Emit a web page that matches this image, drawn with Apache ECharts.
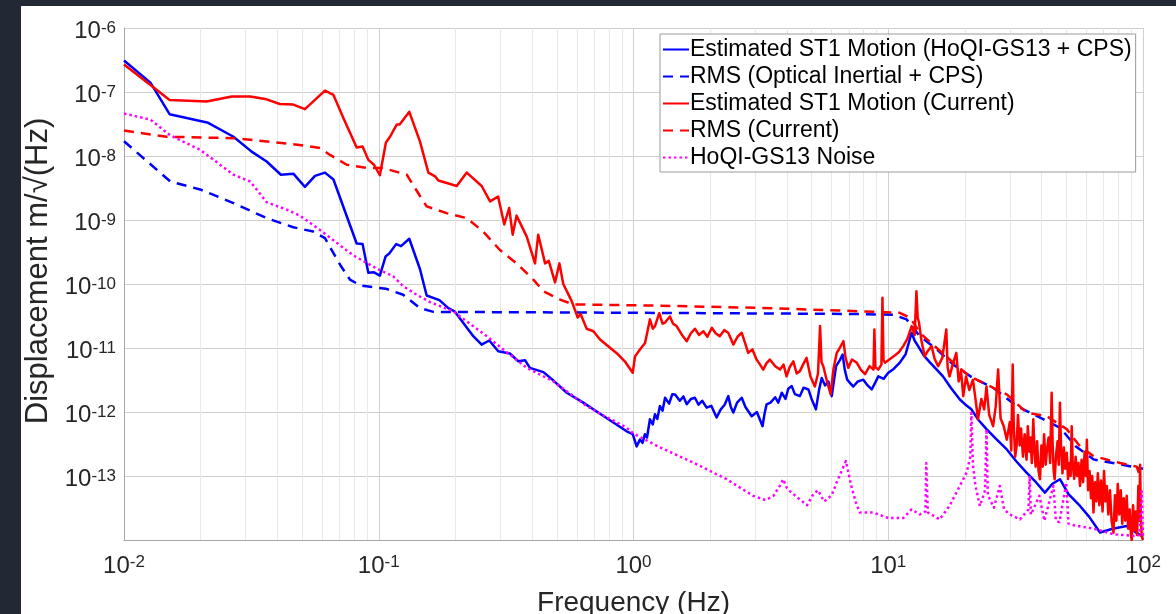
<!DOCTYPE html>
<html>
<head>
<meta charset="utf-8">
<title>ST1 motion estimate</title>
<script src="https://cdn.jsdelivr.net/npm/echarts@6/dist/echarts.min.js"></script>
<style>
  html, body { margin: 0; padding: 0; background: #222834; }
  #chart {
    position: absolute;
    left: 21px;
    top: 6px;
    width: 1155px;
    height: 608px;
    background: #fff;
  }
</style>
</head>
<body>
<div id="chart"></div>
<script>
// decade ticks of both axes (exponents of 10)
const xDecades = [-2, -1, 0, 1, 2];
const yDecades = [-14, -13, -12, -11, -10, -9, -8, -7, -6];

const seriesNames = [
  'Estimated ST1 Motion (HoQI-GS13 + CPS)',
  'RMS (Optical Inertial + CPS)',
  'Estimated ST1 Motion (Current)',
  'RMS (Current)',
  'HoQI-GS13 Noise'
];

// [frequency Hz, displacement m/rtHz]
const st1Hoqi = [
  [0.01, 3.1e-7], [0.0127, 1.4e-7], [0.0151, 4.5e-8], [0.0214, 3.3e-8], [0.0269, 2.0e-8],
  [0.0317, 1.17e-8], [0.0363, 8.2e-9], [0.0413, 5.1e-9], [0.0462, 5.3e-9], [0.0513, 3.3e-9],
  [0.0562, 4.9e-9], [0.0615, 5.5e-9], [0.0664, 4.3e-9], [0.0819, 4.3e-10], [0.0864, 4.2e-10],
  [0.091, 1.5e-10], [0.0958, 1.52e-10], [0.101, 1.35e-10], [0.1064, 2.7e-10], [0.110, 3.0e-10],
  [0.117, 4.2e-10], [0.1223, 3.9e-10], [0.1318, 5.1e-10], [0.1452, 1.7e-10], [0.1542, 6.6e-11],
  [0.173, 5.6e-11], [0.1876, 4.2e-11], [0.199, 3.7e-11], [0.235, 1.53e-11], [0.2535, 1.13e-11],
  [0.2716, 1.31e-11], [0.2944, 8.9e-12], [0.327, 8.2e-12], [0.353, 6.2e-12], [0.375, 6.45e-12],
  [0.392, 4.9e-12], [0.443, 4.2e-12], [0.485, 3.1e-12], [0.547, 2.0e-12], [0.635, 1.4e-12],
  [0.739, 9.4e-13], [0.94, 5.0e-13], [0.993, 4.5e-13], [1.029, 2.9e-13], [1.06, 3.7e-13],
  [1.085, 3.3e-13], [1.109, 4.5e-13], [1.13, 4.0e-13], [1.16, 7.7e-13], [1.19, 6.4e-13],
  [1.214, 9.2e-13], [1.24, 7.8e-13], [1.27, 1.24e-12], [1.30, 1.05e-12], [1.33, 1.67e-12],
  [1.38, 1.35e-12], [1.42, 1.9e-12], [1.456, 1.88e-12], [1.52, 1.5e-12], [1.57, 1.75e-12],
  [1.618, 1.32e-12], [1.68, 1.6e-12], [1.742, 1.67e-12], [1.80, 1.3e-12], [1.86, 1.5e-12],
  [1.937, 1.17e-12], [2.02, 1.25e-12], [2.12, 8.2e-13], [2.20, 1.1e-12], [2.28, 1.3e-12],
  [2.355, 1.77e-12], [2.41, 1.2e-12], [2.465, 9.8e-13], [2.55, 1.4e-12], [2.66, 1.67e-12],
  [2.75, 1.2e-12], [2.91, 8.6e-13], [3.05, 1.0e-12], [3.21, 6.0e-13], [3.27, 9.5e-13],
  [3.33, 1.32e-12], [3.45, 1.4e-12], [3.6, 1.7e-12], [3.7, 1.4e-12], [3.82, 2.0e-12],
  [3.95, 1.6e-12], [4.05, 2.3e-12], [4.18, 2.54e-12], [4.3, 1.9e-12], [4.5, 1.77e-12],
  [4.65, 2.4e-12], [4.86, 2.25e-12], [5.0, 1.6e-12], [5.2, 1.1e-12], [5.35, 2.2e-12],
  [5.48, 3.4e-12], [5.65, 2.6e-12], [5.82, 3.0e-12], [6.0, 1.77e-12], [6.24, 5.2e-12],
  [6.45, 6.4e-12], [6.62, 7.9e-12], [6.75, 4.6e-12], [6.9, 3.2e-12], [7.1, 2.8e-12],
  [7.29, 2.5e-12], [7.6, 3.0e-12], [7.98, 3.2e-12], [8.3, 2.6e-12], [8.61, 2.25e-12],
  [8.9, 2.9e-12], [9.14, 3.6e-12], [9.6, 3.3e-12], [10.0, 4.1e-12], [10.5, 4.7e-12],
  [11.1, 5.9e-12], [11.7, 8.0e-12], [12.35, 1.73e-11], [12.7, 1.3e-11], [13.1, 1.07e-11],
  [13.8, 7.6e-12], [14.6, 5.9e-12], [15.5, 4.6e-12], [16.4, 3.6e-12], [17.6, 2.4e-12],
  [19.1, 1.57e-12], [20.1, 1.3e-12], [21.2, 1.1e-12], [22.6, 7.5e-13], [24.3, 5.4e-13],
  [26.5, 3.8e-13], [29.2, 2.6e-13], [31.8, 1.7e-13], [34.9, 1.13e-13], [38.0, 8.0e-14],
  [41.2, 5.5e-14], [44.0, 7.5e-14], [47.2, 8.9e-14], [51.0, 5.2e-14], [56.6, 3.4e-14],
  [61.5, 2.3e-14], [67.8, 1.31e-14], [76.0, 1.5e-14], [86.3, 1.66e-14], [94.0, 1.3e-14],
  [98.8, 1.16e-14], [100, 1.2e-14]
];

const rmsOptical = [
  [0.01, 1.7e-8], [0.0152, 4.0e-9], [0.0199, 3.0e-9], [0.0269, 1.84e-9], [0.0363, 1.07e-9],
  [0.0462, 7.7e-10], [0.0553, 6.6e-10], [0.0615, 5.2e-10], [0.0705, 2.0e-10], [0.0771, 1.17e-10],
  [0.0846, 9.5e-11], [0.107, 8.4e-11], [0.1247, 6.8e-11], [0.145, 4.2e-11], [0.164, 3.67e-11],
  [1.0, 3.55e-11], [7.74, 3.4e-11], [10.5, 3.3e-11], [11.8, 2.8e-11], [13.3, 1.53e-11],
  [15.5, 9.5e-12], [18.0, 5.5e-12], [21.5, 3.4e-12], [25.8, 2.4e-12], [31.9, 1.24e-12],
  [37.1, 9.2e-13], [47.2, 5.7e-13], [54.5, 2.9e-13], [63.9, 1.82e-13], [81.3, 1.52e-13],
  [94.5, 1.35e-13], [100, 1.3e-13]
];

const st1Current = [
  [0.01, 2.7e-7], [0.0127, 1.29e-7], [0.0151, 7.5e-8], [0.0211, 7.1e-8], [0.0265, 8.5e-8],
  [0.0313, 8.5e-8], [0.0358, 7.8e-8], [0.0409, 6.5e-8], [0.0462, 6.35e-8], [0.0513, 5.4e-8],
  [0.0615, 1.05e-7], [0.0664, 9.0e-8], [0.0727, 3.9e-8], [0.0819, 1.36e-8], [0.0864, 1.41e-8],
  [0.091, 8.7e-9], [0.0958, 7.3e-9], [0.101, 5.0e-9], [0.1067, 1.63e-8], [0.1107, 2.0e-8],
  [0.1175, 3.07e-8], [0.121, 3.14e-8], [0.1318, 4.9e-8], [0.1452, 1.68e-8], [0.1566, 5.5e-9],
  [0.1664, 4.8e-9], [0.1714, 4.15e-9], [0.2024, 3.4e-9], [0.2215, 5.5e-9], [0.2535, 3.4e-9],
  [0.2735, 1.95e-9], [0.294, 2.33e-9], [0.311, 8.5e-10], [0.325, 1.54e-9], [0.3355, 5.9e-10],
  [0.3475, 1.17e-9], [0.381, 5.5e-10], [0.4105, 2.1e-10], [0.4227, 5.9e-10], [0.4497, 2.1e-10],
  [0.465, 2.3e-10], [0.492, 1.06e-10], [0.512, 2.1e-10], [0.53, 1.0e-10], [0.572, 5.4e-11],
  [0.604, 3.0e-11], [0.62, 3.4e-11], [0.655, 2.0e-11], [0.696, 1.83e-11], [0.739, 1.36e-11],
  [0.809, 1.01e-11], [0.871, 7.9e-12], [0.93, 6.0e-12], [0.993, 4.1e-12], [1.014, 7.4e-12],
  [1.06, 9.5e-12], [1.11, 1.2e-11], [1.16, 2.8e-11], [1.19, 2.0e-11], [1.214, 2.2e-11],
  [1.262, 3.5e-11], [1.30, 2.4e-11], [1.33, 2.5e-11], [1.39, 3.1e-11], [1.43, 2.4e-11],
  [1.476, 2.2e-11], [1.55, 1.6e-11], [1.618, 1.28e-11], [1.68, 1.7e-11], [1.742, 2.0e-11],
  [1.81, 1.6e-11], [1.88, 1.83e-11], [1.95, 1.5e-11], [2.03, 2.07e-11], [2.1, 1.7e-11],
  [2.18, 1.53e-11], [2.27, 1.9e-11], [2.355, 1.73e-11], [2.465, 1.13e-11], [2.56, 1.5e-11],
  [2.66, 1.73e-11], [2.74, 1.2e-11], [2.82, 8.4e-12], [2.93, 9.5e-12], [3.04, 6.6e-12],
  [3.13, 5.6e-12], [3.23, 4.6e-12], [3.33, 5.8e-12], [3.43, 6.6e-12], [3.6, 5.2e-12],
  [3.76, 4.6e-12], [3.88, 5.5e-12], [3.99, 3.6e-12], [4.1, 5.0e-12], [4.24, 6.2e-12],
  [4.37, 4.0e-12], [4.5, 4.35e-12], [4.64, 5.6e-12], [4.78, 7.0e-12], [4.95, 3.6e-12],
  [5.15, 2.5e-12], [5.3, 4.0e-12], [5.4, 2.2e-11], [5.47, 6.0e-12], [5.56, 5.2e-12],
  [5.75, 3.0e-12], [5.94, 1.9e-12], [6.1, 4.8e-12], [6.28, 8.4e-12], [6.45, 1.0e-11],
  [6.67, 1.28e-11], [6.8, 7.0e-12], [6.97, 4.9e-12], [7.2, 6.6e-12], [7.52, 5.9e-12],
  [7.8, 4.6e-12], [8.11, 3.9e-12], [8.45, 5.2e-12], [8.75, 4.6e-12], [8.82, 1.95e-11],
  [8.9, 5.0e-12], [9.14, 4.6e-12], [9.4, 5.5e-12], [9.49, 6.1e-11], [9.58, 6.4e-12],
  [9.71, 5.9e-12], [10.1, 6.6e-12], [10.5, 7.4e-12], [11.0, 8.6e-12], [11.45, 1.07e-11],
  [11.9, 1.4e-11], [12.36, 2.2e-11], [12.7, 1.6e-11], [12.9, 7.7e-11], [13.05, 3.0e-11],
  [13.2, 2.5e-11], [13.5, 1.3e-11], [13.9, 7.4e-12], [14.3, 9.0e-12], [14.8, 1.07e-11],
  [15.2, 6.8e-12], [15.7, 5.2e-12], [16.3, 7.0e-12], [16.9, 1.95e-11], [17.1, 5.0e-12],
  [17.4, 3.6e-12], [17.9, 5.5e-12], [18.5, 8.4e-12], [18.9, 3.0e-12], [19.3, 4.4e-12],
  [19.7, 1.77e-12], [20.2, 3.6e-12], [20.8, 2.2e-12], [21.5, 3.2e-12], [22.0, 1.6e-12],
  [22.5, 7.7e-13], [23.2, 1.6e-12], [23.8, 1.1e-12], [24.3, 2.5e-12], [24.9, 9.0e-13],
  [25.8, 6.0e-13], [26.4, 1.2e-12], [27.0, 4.6e-12], [27.6, 8.0e-13], [28.4, 6.0e-13],
  [29.2, 3.7e-13], [30.0, 7.0e-13], [30.4, 2.5e-13], [30.8, 5.5e-12], [31.1, 6.0e-13],
  [31.5, 2.0e-13], [31.9, 2.9e-13], [32.3, 9.0e-13], [32.8, 3.0e-13], [33.2, 5.5e-13],
  [33.8, 2.0e-13], [34.3, 4.5e-13], [34.9, 1.8e-13], [35.3, 6.0e-13], [35.8, 2.4e-13],
  [36.2, 4.0e-13], [36.6, 1.6e-13], [37.1, 7.7e-13], [37.5, 2.5e-13], [37.9, 1.4e-13],
  [38.4, 3.5e-13], [38.9, 1.2e-13], [39.4, 8.9e-14], [39.9, 3.0e-13], [40.4, 1.4e-13],
  [40.9, 4.5e-13], [41.5, 1.5e-13], [42.0, 2.6e-13], [42.6, 4.0e-13], [43.2, 1.6e-13],
  [43.8, 2.0e-12], [44.2, 3.0e-13], [44.6, 1.2e-13], [45.0, 8.9e-14], [45.6, 2.2e-13],
  [46.2, 3.5e-13], [46.7, 1.5e-13], [47.2, 1.4e-12], [47.7, 2.6e-13], [48.3, 1.1e-13],
  [48.9, 2.8e-13], [49.5, 1.3e-13], [50.2, 2.3e-13], [50.8, 9.0e-14], [51.4, 1.6e-13],
  [52.0, 1.0e-13], [52.5, 6.0e-13], [53.0, 1.5e-13], [53.7, 9.0e-14], [54.4, 2.0e-13],
  [55.1, 1.0e-13], [55.8, 1.6e-13], [56.6, 7.0e-14], [57.4, 1.8e-13], [58.2, 8.0e-14],
  [59.0, 2.4e-13], [59.7, 1.0e-13], [60.2, 3.7e-13], [60.9, 6.0e-14], [61.7, 1.2e-13],
  [62.5, 4.5e-14], [63.2, 1.0e-13], [63.9, 2.7e-14], [64.8, 8.0e-14], [65.6, 4.0e-14],
  [66.5, 1.1e-13], [67.4, 3.5e-14], [68.4, 8.5e-14], [69.4, 2.8e-14], [70.3, 1.2e-13],
  [71.2, 4.0e-14], [72.1, 7.0e-14], [73.1, 2.5e-14], [74.2, 6.0e-14], [75.3, 2.0e-14],
  [76.6, 1.3e-14], [77.6, 5.0e-14], [78.6, 2.0e-14], [79.6, 7.5e-14], [80.7, 2.5e-14],
  [81.8, 6.0e-14], [82.9, 1.8e-14], [84.0, 4.5e-14], [85.2, 2.0e-14], [86.3, 4.9e-14],
  [87.5, 1.5e-14], [88.7, 3.0e-14], [89.7, 1.2e-14], [90.3, 1.0e-14], [91.4, 3.5e-14],
  [92.5, 1.4e-14], [93.6, 2.8e-14], [94.8, 1.2e-14], [95.9, 7.0e-14], [96.8, 2.0e-14],
  [97.4, 1.5e-13], [98.1, 2.5e-14], [98.8, 1.16e-14], [100, 1.0e-14]
];

const rmsCurrent = [
  [0.01, 2.5e-8], [0.0147, 2.0e-8], [0.0269, 1.9e-8], [0.0449, 1.55e-8], [0.0537, 1.41e-8],
  [0.0588, 1.33e-8], [0.0644, 1.04e-8], [0.0749, 7.3e-9], [0.0897, 6.5e-9], [0.1042, 6.47e-9],
  [0.1288, 5.1e-9], [0.1388, 3.15e-9], [0.1542, 1.63e-9], [0.1847, 1.28e-9], [0.2215, 1.07e-9],
  [0.257, 6.6e-10], [0.299, 3.4e-10], [0.3475, 2.1e-10], [0.4045, 1.17e-10], [0.443, 7.7e-11],
  [0.515, 5.7e-11], [0.581, 4.8e-11], [1.2, 4.6e-11], [3.13, 4.24e-11], [7.74, 3.75e-11],
  [11.1, 3.54e-11], [12.2, 2.96e-11], [13.3, 1.73e-11], [15.5, 1.0e-11], [18.0, 5.9e-12],
  [20.9, 3.6e-12], [24.3, 2.7e-12], [29.2, 1.88e-12], [34.9, 9.8e-13], [41.9, 8.6e-13],
  [50.2, 5.4e-13], [56.6, 2.9e-13], [63.9, 2.05e-13], [81.3, 1.6e-13], [94.5, 1.4e-13],
  [97.2, 1.0e-13], [100, 1.0e-13]
];

const hoqiNoise = [
  [0.01, 4.6e-8], [0.0127, 3.7e-8], [0.0152, 2.1e-8], [0.0199, 1.25e-8], [0.0269, 5.1e-9],
  [0.0313, 4.0e-9], [0.0363, 1.9e-9], [0.0435, 1.45e-9], [0.049, 1.17e-9], [0.0588, 7.0e-10],
  [0.0684, 4.4e-10], [0.0795, 2.8e-10], [0.0897, 2.13e-10], [0.1, 1.68e-10], [0.114, 1.32e-10],
  [0.1247, 9.2e-11], [0.141, 6.8e-11], [0.159, 5.2e-11], [0.196, 3.75e-11], [0.2655, 1.53e-11],
  [0.308, 9.5e-12], [0.381, 4.9e-12], [0.485, 3.0e-12], [0.655, 1.24e-12], [0.739, 9.4e-13],
  [0.94, 5.7e-13], [1.0, 4.6e-13], [1.27, 2.8e-13], [1.718, 1.62e-13], [2.32, 8.9e-14],
  [2.95, 4.9e-14], [3.3, 4.2e-14], [3.54, 4.9e-14], [3.75, 7.0e-14], [3.87, 8.9e-14],
  [4.0, 6.5e-14], [4.11, 5.8e-14], [4.5, 4.3e-14], [4.8, 3.5e-14], [5.08, 5.2e-14],
  [5.3, 6.0e-14], [5.6, 4.0e-14], [6.0, 5.0e-14], [6.27, 7.9e-14], [6.5, 1.1e-13],
  [6.82, 1.71e-13], [7.16, 7.0e-14], [7.5, 3.6e-14], [7.74, 2.7e-14], [8.7, 2.7e-14],
  [10, 2.2e-14], [11.45, 2.2e-14], [12.35, 3.0e-14], [13.3, 2.5e-14], [14.0, 2.8e-14],
  [14.1, 1.6e-13], [14.3, 2.7e-14], [15.9, 2.1e-14], [17.4, 3.4e-14], [19.1, 7.0e-14],
  [20.3, 1.13e-13], [21.0, 2.0e-13], [21.2, 9.7e-13], [21.5, 1.5e-13], [22.0, 7.0e-14],
  [22.9, 3.4e-14], [24.0, 6.0e-14], [24.3, 5.4e-13], [24.6, 5.0e-14], [26.0, 3.2e-14],
  [27.4, 7.0e-14], [28.5, 3.0e-14], [30.0, 2.5e-14], [32.9, 2.1e-14], [35.5, 3.0e-14],
  [35.9, 1.0e-13], [36.3, 2.5e-14], [39.2, 4.9e-14], [41, 2.0e-14], [44.5, 7.0e-14],
  [45.5, 2.0e-14], [47, 1.9e-14], [50, 7.9e-14], [51, 1.8e-14], [53.6, 1.7e-14],
  [64, 1.5e-14], [76.6, 1.23e-14], [91.3, 1.16e-14], [97, 1.2e-14], [98.8, 5.8e-14],
  [100, 1.1e-14]
];

const FONT = 'Liberation Sans, Arial, sans-serif';
const TEXT = '#262626';

function powLabel(val) {
  const e = Math.round(Math.log10(val));
  if (e === -14) return '';
  return '{b|10}{s|' + e + '}';
}
const powRich = {
  b: { fontFamily: FONT, fontSize: 24, color: TEXT, lineHeight: 24, verticalAlign: 'bottom', padding: [7, 0, 0, 0] },
  s: { fontFamily: FONT, fontSize: 17, color: TEXT, lineHeight: 17, verticalAlign: 'top' }
};

// minor grid lines at 2..9 of each decade
const minorY = [];
yDecades.slice(0, -1).forEach(e => {
  for (let d = 2; d <= 9; d++) minorY.push({ yAxis: d * Math.pow(10, e) });
});
const minorX = [];
xDecades.slice(0, -1).forEach(e => {
  for (let d = 2; d <= 9; d++) minorX.push({ xAxis: d * Math.pow(10, e) });
});

function lineSeries(name, data, color, type, z) {
  return {
    name: name,
    type: 'line',
    data: data,
    symbol: 'none',
    z: z,
    animation: false,
    lineStyle: { color: color, width: 2.5, type: type, cap: 'butt', join: 'round' },
    itemStyle: { color: color }
  };
}

const chart = echarts.init(document.getElementById('chart'));
chart.setOption({
  animation: false,
  backgroundColor: '#fff',
  grid: { left: 103, top: 22, right: 33, bottom: 74, containLabel: false, outerBoundsMode: 'none' },
  legend: {
    orient: 'vertical',
    left: 639,
    top: 28,
    z: 20,
    data: seriesNames,
    backgroundColor: '#fff',
    borderColor: '#9a9a9a',
    borderWidth: 1,
    padding: [2, 4, 1, 2],
    itemWidth: 26,
    itemHeight: 14,
    itemGap: 0,
    selectedMode: false,
    itemStyle: { opacity: 0 },
    textStyle: { fontFamily: FONT, fontSize: 23, color: '#000', lineHeight: 27, padding: [0, 0, 0, -4] }
  },
  xAxis: {
    type: 'log',
    logBase: 10,
    min: Math.pow(10, xDecades[0]),
    max: Math.pow(10, xDecades[xDecades.length - 1]),
    name: 'Frequency (Hz)',
    nameLocation: 'middle',
    nameGap: 49,
    nameTextStyle: { fontFamily: FONT, fontSize: 28, color: TEXT },
    axisLine: { show: true, lineStyle: { color: '#a6a6a6', width: 1 } },
    axisTick: { show: false },
    axisLabel: { formatter: powLabel, rich: powRich, margin: 14 },
    splitLine: { show: true, lineStyle: { color: '#d0d0d0', width: 1 } }
  },
  yAxis: {
    type: 'log',
    logBase: 10,
    min: Math.pow(10, yDecades[0]),
    max: Math.pow(10, yDecades[yDecades.length - 1]),
    name: 'Displacement m/\u221A(Hz)',
    nameLocation: 'middle',
    nameGap: 67,
    nameTextStyle: { fontFamily: FONT, fontSize: 31, color: TEXT, padding: [0, 0, 0, 26] },
    axisLine: { show: true, lineStyle: { color: '#a6a6a6', width: 1 } },
    axisTick: { show: false },
    axisLabel: { formatter: powLabel, rich: powRich, margin: 8, padding: [7, 0, 0, 0] },
    splitLine: { show: true, lineStyle: { color: '#d0d0d0', width: 1 } }
  },
  series: [
    {
      name: 'minor grid',
      type: 'line',
      data: [],
      z: 1,
      silent: true,
      markLine: {
        z: 1,
        silent: true,
        symbol: ['none', 'none'],
        label: { show: false },
        animation: false,
        lineStyle: { color: '#e9e9e9', width: 1, type: 'solid' },
        data: minorX.concat(minorY)
      }
    },
    lineSeries(seriesNames[0], st1Hoqi, '#0000ff', 'solid', 3),
    lineSeries(seriesNames[1], rmsOptical, '#0000ff', [10, 7], 4),
    lineSeries(seriesNames[2], st1Current, '#ff0000', 'solid', 5),
    lineSeries(seriesNames[3], rmsCurrent, '#ff0000', [10, 7], 6),
    lineSeries(seriesNames[4], hoqiNoise, '#ff00ff', [2.5, 3], 7)
  ]
});
</script>
</body>
</html>
